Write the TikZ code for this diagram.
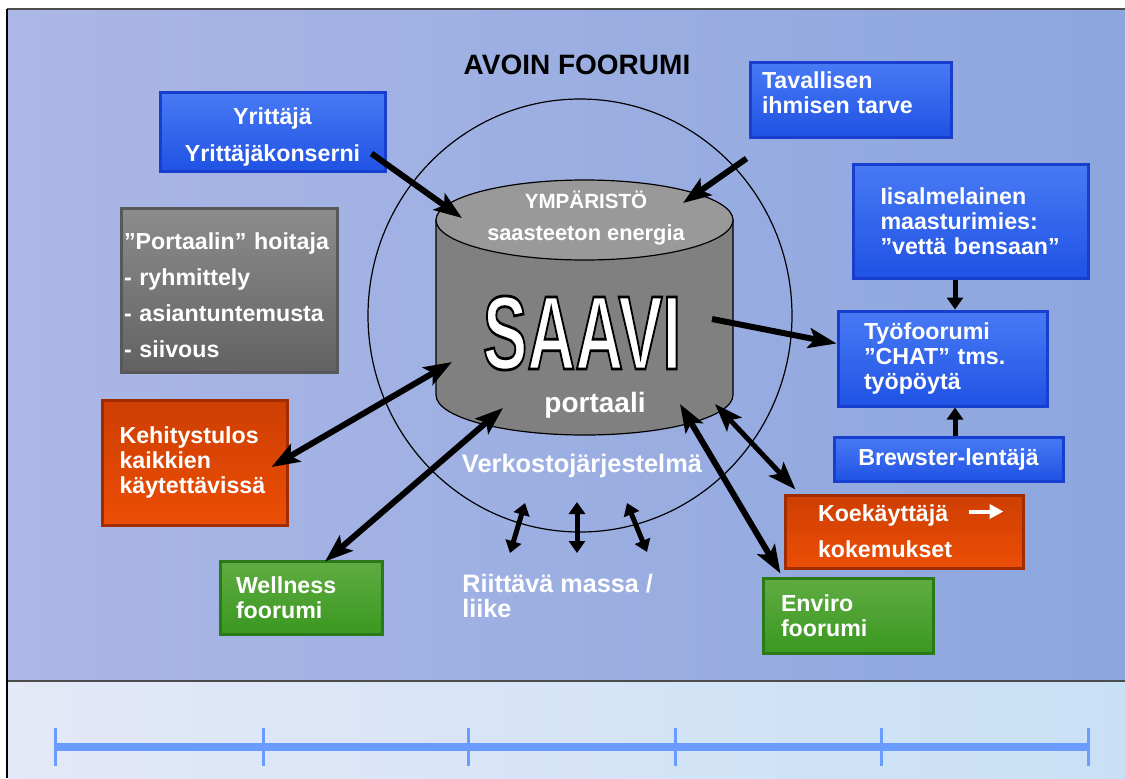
\documentclass[tikz,border=0pt]{standalone}
\usepackage{fontspec}
\setmainfont{Liberation Sans}
\usepackage{graphicx}
\usetikzlibrary{arrows.meta,calc,positioning}

\definecolor{bgleft}{RGB}{172,183,230}
\definecolor{bgright}{RGB}{140,166,222}
\definecolor{lowleft}{RGB}{228,232,247}
\definecolor{lowright}{RGB}{200,224,246}
\definecolor{rulerblue}{RGB}{106,155,255}
\definecolor{bluetop}{RGB}{72,122,245}
\definecolor{bluebot}{RGB}{32,82,228}
\definecolor{blueedge}{RGB}{24,62,205}
\definecolor{graytop}{RGB}{140,140,140}
\definecolor{graybot}{RGB}{98,98,98}
\definecolor{grayedge}{RGB}{88,88,88}
\definecolor{orangetop}{RGB}{205,62,2}
\definecolor{orangebot}{RGB}{236,78,6}
\definecolor{orangeedge}{RGB}{160,44,0}
\definecolor{greentop}{RGB}{96,172,66}
\definecolor{greenbot}{RGB}{58,152,32}
\definecolor{greenedge}{RGB}{42,122,26}
\definecolor{cylbody}{RGB}{128,128,128}
\definecolor{cyltop}{RGB}{153,153,153}

\newcommand{\outlinetext}[1]{\special{pdf:literal direct 2 Tr 0 0 0 RG 1.4 w}#1\special{pdf:literal direct 0 Tr 0.4 w}}

\begin{document}
\begin{tikzpicture}[
x=0.5pt, y=-0.5pt,
panel/.style={
rectangle,
inner xsep=0pt,
inner ysep=2pt,
align=left,
text=white,
line width=1.5pt,
font=\fontsize{11.6}{12.5}\selectfont\bfseries
},
bluebox/.style={panel, top color=bluetop, bottom color=bluebot, draw=blueedge},
graybox/.style={panel, top color=graytop, bottom color=graybot, draw=grayedge},
orangebox/.style={panel, top color=orangetop, bottom color=orangebot, draw=orangeedge},
greenbox/.style={panel, top color=greentop, bottom color=greenbot, draw=greenedge},
whitetext/.style={text=white, inner sep=0pt},
saavifont/.style={inner sep=0pt, font=\fontsize{52.4}{52.4}\selectfont\bfseries},
bigarrow/.style={line width=3pt, -{Stealth[length=14pt,width=10pt,inset=3pt]}},
bigboth/.style={line width=3pt, {Stealth[length=14pt,width=10pt,inset=3pt]}-{Stealth[length=14pt,width=10pt,inset=3pt]}},
smallarrow/.style={line width=2.5pt, -{Triangle[length=6pt,width=8pt]}},
smallboth/.style={line width=2.5pt, {Triangle[length=6pt,width=8pt]}-{Triangle[length=6pt,width=8pt]}}
]
\useasboundingbox (0,0) rectangle (1125,778);

% background
\fill[white] (0,0) rectangle (1125,778);
\shade[left color=bgleft, right color=bgright] (7,9) rectangle (1125,681);
\shade[left color=lowleft, right color=lowright] (7,681) rectangle (1125,778);
\draw[gray!60!black, line width=1pt] (7,9) -- (1125,9);
\draw[gray!60!black, line width=0.8pt] (7,681) -- (1125,681);
\draw[black, line width=1.2pt] (7,9) -- (7,778);

\draw[rulerblue, line width=4pt] (55,747) -- (1088,747);
\foreach \x in {55,263,468,675,881,1088}
\draw[rulerblue, line width=1.5pt] (\x,728) -- (\x,766);

\node[inner sep=0pt, font=\fontsize{14}{14}\selectfont\bfseries] (avoin) at (577,65) {AVOIN FOORUMI};

% forum circle and portal cylinder
\draw[line width=0.6pt] (580,315.5) ellipse[x radius=212, y radius=216.5];
\draw[fill=cylbody, line width=0.6pt] (436,220) -- (436,395)
arc[start angle=180, end angle=0, x radius=148.5, y radius=40] -- (733,220) -- cycle;
\draw[fill=cyltop, line width=0.6pt] (584.5,220) ellipse[x radius=148.5, y radius=40];

\node[whitetext, font=\fontsize{10.3}{10.3}\selectfont\bfseries] (ymparisto) at (586,200) {YMPÄRISTÖ};
\node[whitetext, font=\fontsize{10.9}{10.9}\selectfont\bfseries] (energia) at (586,235) {saasteeton energia};
\node[saavifont, text=white] (saavi) at (582,333) {\scalebox{0.634}[1]{\outlinetext{SAAVI}}};
\node[whitetext, font=\fontsize{14}{14}\selectfont\bfseries] (portaali) at (595,405) {portaali};
\node[whitetext, font=\fontsize{12.7}{12.7}\selectfont\bfseries] (verkosto) at (582,466) {Verkostojärjestelmä};
\node[whitetext, anchor=west, align=left, font=\fontsize{12.6}{12.5}\selectfont\bfseries] (massa) at (462,595.5) {Riittävä massa /\\liike};

\coordinate (cylnw) at (462,218);
\coordinate (cylne) at (683,203);
\coordinate (cyle) at (712,319);
\coordinate (cylw) at (452,362);
\coordinate (cylsw) at (503,408);
\coordinate (cyls) at (680,404);
\coordinate (cylse) at (715,404);

% boxes
\node[bluebox, align=center, minimum width=112.5pt, minimum height=39.5pt,
font=\fontsize{11.6}{18.5}\selectfont\bfseries] (yrit) at (272.5,131.5) {\rule{0pt}{14pt}Yrittäjä\\Yrittäjäkonserni};
\node[bluebox, minimum width=100.5pt, minimum height=37.5pt, text width=88.5pt] (tavallinen) at (850.5,99.5) {Tavallisen\\ihmisen tarve\rule[-7pt]{0pt}{7pt}};
\node[bluebox, minimum width=117.5pt, minimum height=57pt, text width=90pt] (iisalmi) at (970.5,221) {Iisalmelainen\\maasturimies:\\”vettä bensaan”};
\node[bluebox, minimum width=104.5pt, minimum height=47.5pt, text width=78.5pt] (tyo) at (942.5,358.5) {Työfoorumi\\”CHAT” tms.\\työpöytä};
\node[bluebox, align=center, minimum width=114.5pt, minimum height=22pt] (brewster) at (948.5,459) {Brewster-lentäjä};
\node[orangebox, minimum width=119pt, minimum height=36.5pt, text width=86pt,
font=\fontsize{11.6}{18}\selectfont\bfseries] (koe) at (904,531.5) {Koekäyttäjä\\kokemukset};
\node[greenbox, minimum width=85pt, minimum height=37.5pt, text width=67pt] (enviro) at (848,615.5) {Enviro\\foorumi};
\node[greenbox, minimum width=81pt, minimum height=36.5pt, text width=65pt] (wellness) at (301,597.5) {Wellness\\foorumi};
\node[orangebox, minimum width=92.5pt, minimum height=62.5pt, text width=75pt] (kehitys) at (194.5,462.5) {Kehitystulos\\kaikkien\\käytettävissä};
\node[graybox, minimum width=108pt, minimum height=82pt, text width=105pt,
font=\fontsize{11.6}{18}\selectfont\bfseries] (hoitaja) at (229,290) {\rule{0pt}{13.5pt}”Portaalin” hoitaja\\- ryhmittely\\- asiantuntemusta\\- siivous};

% connectors
\draw[bigarrow] ($(yrit.south east)+(-15,-19)$) -- (cylnw);
\draw[bigarrow] ($(tavallinen.south west)+(-2,20)$) -- (cylne);
\draw[bigarrow] (cyle) -- ($(tyo.west)+(0,-15)$);
\draw[smallarrow] ($(iisalmi.south)+(-15.5,0)$) -- ($(tyo.north)+(12.5,0)$);
\draw[smallarrow] ($(brewster.north)+(6.5,0)$) -- ($(tyo.south)+(12.5,0)$);
\draw[bigboth] ($(kehitys.east)+(-17,4.5)$) -- (cylw);
\draw[bigboth] ($(wellness.north)+(24,2)$) -- (cylsw);
\draw[bigboth] ($(enviro.north west)+(19,-3)$) -- (cyls);
\draw[bigboth, line width=2.5pt] ($(koe.north west)+(12,-4)$) -- (cylse);
\draw[white, line width=2pt, -{Triangle[length=7pt,width=7pt]}] ($(koe.north east)+(-56,18)$) -- ($(koe.north east)+(-21,18)$);
\draw[smallboth] (525,503) -- (510,553);
\draw[smallboth] (577,502) -- (577,553);
\draw[smallboth] (627,503) -- (647,552);

\end{tikzpicture}
\end{document}
